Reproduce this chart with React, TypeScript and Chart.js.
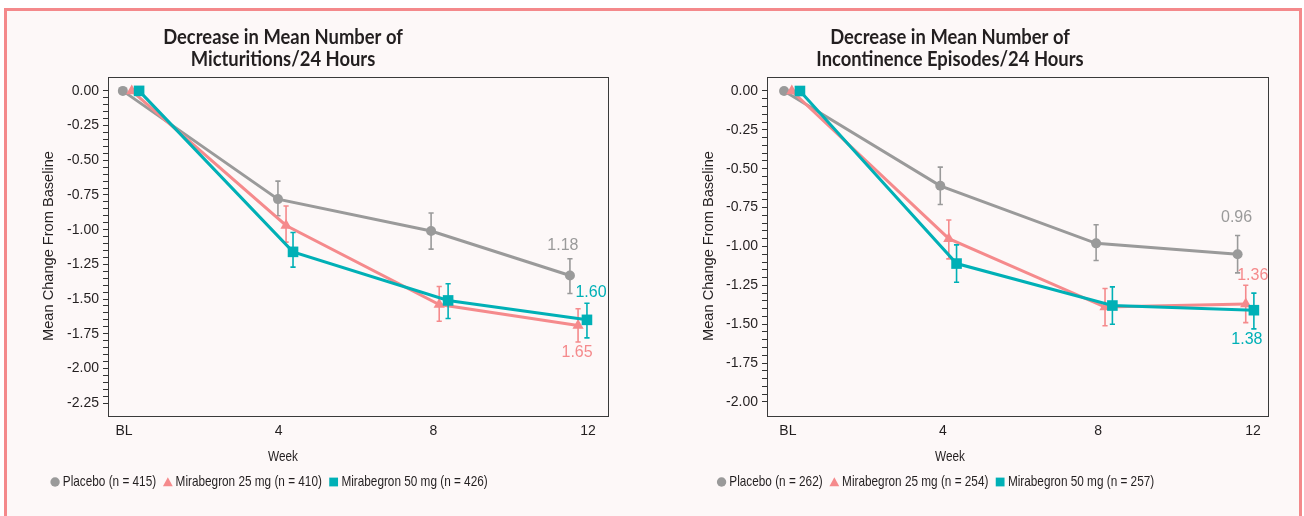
import React, { useEffect, useRef } from 'react';
import { Chart, registerables } from 'chart.js';
Chart.register(...registerables);

// ---------- shared ----------
const weekTicks = [0, 4, 8, 12];
const weekTickLabels = ['BL', '4', '8', '12'];
const seriesNames = ['Placebo', 'Mirabegron 25 mg', 'Mirabegron 50 mg'];
const seriesColors = ['#9a9a9a', '#f58a8c', '#00b0b6'];
const seriesMarkers = ['circle', 'triangle', 'rect'];
const markerRadius = [5, 6.5, 7.5];

// ---------- panel 1: micturitions ----------
const micTitle = ['Decrease in Mean Number of', 'Micturitions/24 Hours'];
const micN = [415, 410, 426];
const micYMajor = [0, -0.25, -0.5, -0.75, -1.0, -1.25, -1.5, -1.75, -2.0, -2.25];
const micPlaceboX = [-0.03, 3.98, 7.94, 11.53];
const micPlaceboY = [0, -0.78, -1.01, -1.33];
const micPlaceboLo = [null, -0.9, -1.14, -1.46];
const micPlaceboHi = [null, -0.65, -0.88, -1.21];
const mic25X = [0.2, 4.19, 8.15, 11.74];
const mic25Y = [0, -0.97, -1.54, -1.69];
const mic25Lo = [null, -1.09, -1.66, -1.81];
const mic25Hi = [null, -0.83, -1.41, -1.57];
const mic50X = [0.39, 4.37, 8.38, 11.97];
const mic50Y = [0, -1.16, -1.51, -1.65];
const mic50Lo = [null, -1.27, -1.64, -1.78];
const mic50Hi = [null, -1.02, -1.39, -1.53];
const micValueLabels = ['1.18', '1.65', '1.60'];

// ---------- panel 2: incontinence ----------
const incTitle = ['Decrease in Mean Number of', 'Incontinence Episodes/24 Hours'];
const incN = [262, 254, 257];
const incYMajor = [0, -0.25, -0.5, -0.75, -1.0, -1.25, -1.5, -1.75, -2.0];
const incPlaceboX = [-0.1, 3.93, 7.95, 11.6];
const incPlaceboY = [0, -0.61, -0.98, -1.05];
const incPlaceboLo = [null, -0.73, -1.09, -1.17];
const incPlaceboHi = [null, -0.49, -0.86, -0.93];
const inc25X = [0.1, 4.15, 8.18, 11.81];
const inc25Y = [0, -0.95, -1.39, -1.37];
const inc25Lo = [null, -1.08, -1.51, -1.49];
const inc25Hi = [null, -0.83, -1.27, -1.25];
const inc50X = [0.31, 4.35, 8.37, 12.02];
const inc50Y = [0, -1.11, -1.38, -1.41];
const inc50Lo = [null, -1.23, -1.5, -1.53];
const inc50Hi = [null, -0.99, -1.26, -1.3];
const incValueLabels = ['0.96', '1.36', '1.38'];

const TEXT = '#231f20';
const AXIS_FONT = '"Liberation Sans", Arial, sans-serif';
const TITLE_FONT = 'Lato, "Liberation Sans", sans-serif';
const CW = 652;
const CH = 516;
const NARROW = 0.785;

type Panel = {
  title: string[];
  n: number[];
  xs: number[][];
  ys: number[][];
  lo: (number | null)[][];
  hi: (number | null)[][];
  valueLabels: string[];
  labelOffsets: number[][];
  yMajor: number[];
  yMin: number;
  yMax: number;
  xMin: number;
  xMax: number;
  area: { left: number; right: number; top: number; bottom: number };
  centerX: number;
  legendCenterX: number;
  yTitleX: number;
};

const panels: Panel[] = [
  {
    title: micTitle,
    n: micN,
    xs: [micPlaceboX, mic25X, mic50X],
    ys: [micPlaceboY, mic25Y, mic50Y],
    lo: [micPlaceboLo, mic25Lo, mic50Lo],
    hi: [micPlaceboHi, mic25Hi, mic50Hi],
    valueLabels: micValueLabels,
    labelOffsets: [[-7, -30], [-1, 27], [4, -27]],
    yMajor: micYMajor,
    yMin: -2.35,
    yMax: 0.1,
    xMin: -0.414,
    xMax: 12.54,
    area: { left: 108, right: 609, top: 77, bottom: 417 },
    centerX: 283,
    legendCenterX: 269,
    yTitleX: 49,
  },
  {
    title: incTitle,
    n: incN,
    xs: [incPlaceboX, inc25X, inc50X],
    ys: [incPlaceboY, inc25Y, inc50Y],
    lo: [incPlaceboLo, inc25Lo, inc50Lo],
    hi: [incPlaceboHi, inc25Hi, inc50Hi],
    valueLabels: incValueLabels,
    labelOffsets: [[-1, -37], [7, -28], [-7, 29]],
    yMajor: incYMajor,
    yMin: -2.097,
    yMax: 0.09,
    xMin: -0.54,
    xMax: 12.41,
    area: { left: 115, right: 617, top: 77, bottom: 417 },
    centerX: 298,
    legendCenterX: 283.5,
    yTitleX: 57,
  },
];

function drawMarker(ctx: CanvasRenderingContext2D, kind: string, x: number, y: number, color: string) {
  ctx.fillStyle = color;
  ctx.beginPath();
  if (kind === 'circle') {
    ctx.arc(x, y, 4.7, 0, Math.PI * 2);
  } else if (kind === 'triangle') {
    ctx.moveTo(x, y - 4.8);
    ctx.lineTo(x + 4.9, y + 4.2);
    ctx.lineTo(x - 4.9, y + 4.2);
    ctx.closePath();
  } else {
    ctx.rect(x - 4.4, y - 4.4, 8.8, 8.8);
  }
  ctx.fill();
}

function fillScaled(ctx: CanvasRenderingContext2D, text: string, x: number, y: number, sx: number) {
  ctx.save();
  ctx.translate(x, y);
  ctx.scale(sx, 1);
  ctx.fillText(text, 0, 0);
  ctx.restore();
}

function makeDecor(p: Panel) {
  return {
    id: 'decor',
    beforeDatasetDraw(chart: any, args: any) {
      const i = args.index;
      const ctx: CanvasRenderingContext2D = chart.ctx;
      const xs = chart.scales.x;
      const ys = chart.scales.y;
      ctx.save();
      ctx.strokeStyle = seriesColors[i];
      ctx.lineWidth = 1.6;
      for (let j = 0; j < p.xs[i].length; j++) {
        const lo = p.lo[i][j];
        const hi = p.hi[i][j];
        if (lo == null || hi == null) continue;
        const x = xs.getPixelForValue(p.xs[i][j]);
        const y1 = ys.getPixelForValue(hi);
        const y2 = ys.getPixelForValue(lo);
        ctx.beginPath();
        ctx.moveTo(x, y1);
        ctx.lineTo(x, y2);
        ctx.moveTo(x - 2.6, y1);
        ctx.lineTo(x + 2.6, y1);
        ctx.moveTo(x - 2.6, y2);
        ctx.lineTo(x + 2.6, y2);
        ctx.stroke();
      }
      ctx.restore();
    },
    afterDraw(chart: any) {
      const ctx: CanvasRenderingContext2D = chart.ctx;
      const xs = chart.scales.x;
      const ys = chart.scales.y;
      const a = p.area;
      ctx.save();
      // frame
      ctx.strokeStyle = '#3a3a3a';
      ctx.lineWidth = 1;
      ctx.strokeRect(a.left + 0.5, a.top + 0.5, a.right - a.left - 1, a.bottom - a.top - 1);

      // value labels at last visit
      ctx.font = `16px ${AXIS_FONT}`;
      ctx.textAlign = 'center';
      ctx.textBaseline = 'middle';
      for (let i = 0; i < 3; i++) {
        const j = p.xs[i].length - 1;
        const x = xs.getPixelForValue(p.xs[i][j]) + p.labelOffsets[i][0];
        const y = ys.getPixelForValue(p.ys[i][j]) + p.labelOffsets[i][1];
        ctx.fillStyle = seriesColors[i];
        ctx.fillText(p.valueLabels[i], x, y);
      }

      // title
      ctx.fillStyle = TEXT;
      ctx.font = `bold 20px ${TITLE_FONT}`;
      fillScaled(ctx, p.title[0], p.centerX, 38, 0.92);
      fillScaled(ctx, p.title[1], p.centerX, 60, 0.92);

      // y title
      ctx.save();
      ctx.translate(p.yTitleX, 246);
      ctx.rotate(-Math.PI / 2);
      ctx.font = `14.6px ${AXIS_FONT}`;
      ctx.fillText('Mean Change From Baseline', 0, 0);
      ctx.restore();

      // x title
      ctx.font = `15px ${AXIS_FONT}`;
      ctx.fillStyle = TEXT;
      fillScaled(ctx, 'Week', p.centerX, 457, NARROW);

      // legend
      const texts = seriesNames.map((s, i) => `${s} (n = ${p.n[i]})`);
      const mw = 9.5;
      const gap = 3;
      const itemGap = 7;
      const tw = texts.map((t) => ctx.measureText(t).width * NARROW);
      const widths = tw.map((w) => mw + gap + w);
      const total = widths.reduce((s, w) => s + w, 0) + itemGap * (texts.length - 1);
      let x = p.legendCenterX - total / 2;
      const ly = 482;
      ctx.textAlign = 'left';
      for (let i = 0; i < texts.length; i++) {
        drawMarker(ctx, seriesMarkers[i], x + mw / 2, ly, seriesColors[i]);
        ctx.fillStyle = TEXT;
        fillScaled(ctx, texts[i], x + mw + gap, ly, NARROW);
        x += widths[i] + itemGap;
      }
      ctx.restore();
    },
  };
}

function makeConfig(p: Panel): any {
  const datasets = seriesNames.map((name, i) => ({
    label: name,
    data: p.xs[i].map((x, j) => ({ x, y: p.ys[i][j] })),
    borderColor: seriesColors[i],
    backgroundColor: seriesColors[i],
    borderWidth: 3,
    pointStyle: seriesMarkers[i],
    pointRadius: markerRadius[i],
    pointBorderWidth: 0,
    pointHoverRadius: markerRadius[i],
    order: 3 - i,
    tension: 0,
    clip: false,
  }));
  const minorStep = 0.05;
  const lowest = p.yMajor[p.yMajor.length - 1];
  return {
    type: 'line',
    data: { datasets },
    options: {
      animation: false,
      responsive: false,
      events: [],
      layout: { padding: { left: 0, top: p.area.top, right: CW - p.area.right, bottom: 0 } },
      plugins: { legend: { display: false }, title: { display: false }, tooltip: { enabled: false } },
      scales: {
        x: {
          type: 'linear',
          min: p.xMin,
          max: p.xMax,
          afterBuildTicks: (s: any) => {
            s.ticks = weekTicks.map((v) => ({ value: v }));
          },
          afterFit: (s: any) => {
            s.height = CH - p.area.bottom;
          },
          ticks: {
            autoSkip: false,
            maxRotation: 0,
            padding: 6,
            color: TEXT,
            font: { family: AXIS_FONT, size: 14 },
            callback: (v: number) => {
              const k = weekTicks.indexOf(v);
              return k >= 0 ? weekTickLabels[k] : '';
            },
          },
          grid: { display: false, drawTicks: false },
          border: { display: false },
        },
        y: {
          type: 'linear',
          min: p.yMin,
          max: p.yMax,
          afterBuildTicks: (s: any) => {
            const t: any[] = [];
            const count = Math.round(-lowest / minorStep);
            for (let k = 0; k <= count; k++) t.push({ value: -Math.round(k * minorStep * 1000) / 1000 });
            s.ticks = t;
          },
          afterFit: (s: any) => {
            s.width = p.area.left;
          },
          ticks: {
            autoSkip: false,
            padding: 4,
            color: TEXT,
            font: { family: AXIS_FONT, size: 14 },
            callback: (v: number) => {
              const hit = p.yMajor.some((m) => Math.abs(m - v) < 1e-6);
              if (!hit) return '';
              return Math.abs(v) < 1e-9 ? '0.00' : v.toFixed(2);
            },
          },
          grid: { drawOnChartArea: false, drawTicks: true, tickLength: 5, color: '#333', lineWidth: 1 },
          border: { display: false },
        },
      },
    },
    plugins: [makeDecor(p)],
  };
}

function PanelChart({ p, left }: { p: Panel; left: number }) {
  const ref = useRef<HTMLCanvasElement | null>(null);
  useEffect(() => {
    if (!ref.current) return;
    const chart = new Chart(ref.current, makeConfig(p));
    return () => chart.destroy();
  }, [p]);
  return (
    <canvas
      ref={ref}
      width={CW}
      height={CH}
      style={{ position: 'absolute', left, top: 0, width: CW, height: CH }}
    />
  );
}

export default function App() {
  return (
    <div
      style={{
        position: 'fixed',
        left: 0,
        top: 0,
        width: 1304,
        height: 516,
        background: '#ffffff',
        overflow: 'hidden',
      }}
    >
      <div
        style={{
          position: 'absolute',
          left: 4,
          top: 7.5,
          width: 1298,
          height: 540,
          boxSizing: 'border-box',
          border: '3px solid #f4898b',
          background: '#fdf8f8',
        }}
      />
      <PanelChart p={panels[0]} left={0} />
      <PanelChart p={panels[1]} left={CW} />
    </div>
  );
}
